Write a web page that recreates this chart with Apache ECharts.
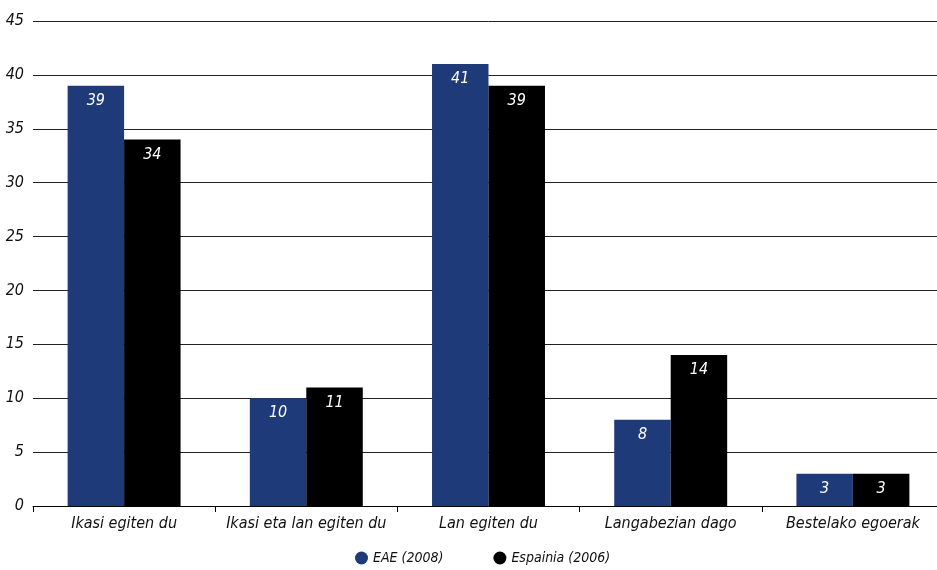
<!DOCTYPE html>
<html><head><meta charset="utf-8">
<script src="https://cdn.jsdelivr.net/npm/echarts@6/dist/echarts.min.js"></script>
<style>html,body{margin:0;padding:0;background:#fff;overflow:hidden}#c{width:944px;height:570px}</style>
</head><body><div id="c"></div>
<script>
const categories = ["Ikasi egiten du", "Ikasi eta lan egiten du", "Lan egiten du", "Langabezian dago", "Bestelako egoerak"];
const seriesNames = ["EAE (2008)", "Espainia (2006)"];
const eae = [39, 10, 41, 8, 3];
const espainia = [34, 11, 39, 14, 3];
const FONT = "'Liberation Sans Narrow', 'DejaVu Sans Condensed', 'Liberation Sans', sans-serif";
const chart = echarts.init(document.getElementById('c'));
const lbl = {show: true, position: 'insideTop', distance: 7, color: '#fff', fontStyle: 'italic', fontFamily: FONT, fontSize: 16};
chart.setOption({
  animation: false,
  grid: {left: 33, right: 0, top: 21, bottom: 64, containLabel: false},
  legend: {
    bottom: 0, left: 350, itemWidth: 13, itemHeight: 13, icon: 'circle', itemGap: 50,
    textStyle: {fontStyle: 'italic', fontFamily: FONT, fontSize: 14, color: '#111'},
    data: seriesNames
  },
  xAxis: {
    type: 'category', data: categories,
    axisLine: {lineStyle: {color: '#000', width: 1}},
    axisTick: {show: true, length: 6, lineStyle: {color: '#000'}},
    axisLabel: {interval: 0, fontStyle: 'italic', fontFamily: FONT, fontSize: 16, color: '#111', margin: 10}
  },
  yAxis: {
    type: 'value', min: 0, max: 45, interval: 5,
    axisLine: {show: false}, axisTick: {show: false},
    splitLine: {lineStyle: {color: '#222', width: 1}},
    axisLabel: {fontStyle: 'italic', fontFamily: FONT, fontSize: 16, color: '#111', margin: 9}
  },
  series: [
    {name: seriesNames[0], type: 'bar', data: eae, itemStyle: {color: '#1f3a78'}, barGap: '0%', barCategoryGap: '38%', label: lbl},
    {name: seriesNames[1], type: 'bar', data: espainia, itemStyle: {color: '#000'}, barGap: '0%', barCategoryGap: '38%', label: lbl}
  ]
});
</script></body></html>
